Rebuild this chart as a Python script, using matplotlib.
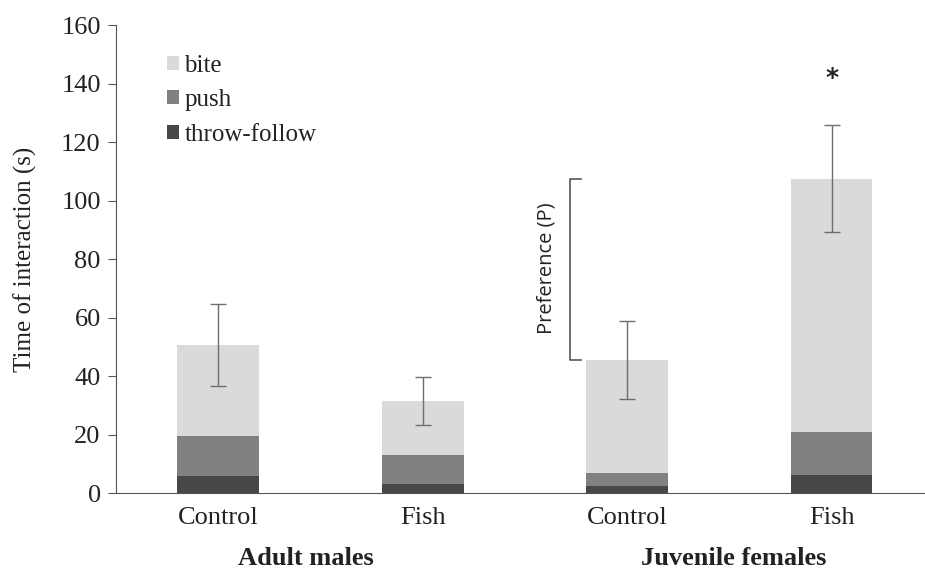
import matplotlib.pyplot as plt

# data
labels = ['Control', 'Fish', 'Control', 'Fish']
groups = ['Adult males', 'Juvenile females']
throw_follow = [5.8, 3.0, 2.3, 6.0]
push = [13.7, 10.0, 4.7, 15.0]
bite = [31.0, 18.5, 38.5, 86.5]
err = [14.0, 8.2, 13.3, 18.3]

c_bite = '#d9dadc'
c_push = '#808182'
c_throw = '#474748'
txt = '#222222'
serif = 'Liberation Serif'

fig = plt.figure(figsize=(9.25, 5.72), dpi=100)
ax = fig.add_axes([0.1254, 0.1381, 0.8746, 0.818])

x = list(range(len(labels)))
w = 0.4
b2 = [a + b for a, b in zip(throw_follow, push)]
total = [a + b for a, b in zip(b2, bite)]

ax.bar(x, throw_follow, w, color=c_throw, label='throw-follow')
ax.bar(x, push, w, bottom=throw_follow, color=c_push, label='push')
ax.bar(x, bite, w, bottom=b2, color=c_bite, label='bite')
ax.errorbar(x, total, yerr=err, fmt='none', ecolor='#6e6e6e', elinewidth=1,
            capsize=6, capthick=1)

ax.set_xlim(-0.5, 3.457)
ax.set_ylim(0, 160)
ax.set_yticks(range(0, 161, 20))
ax.set_xticks(x)
ax.set_xticklabels(labels)
ax.tick_params(axis='x', length=0, pad=10)
ax.tick_params(axis='y', length=6, direction='out', color='#555555', pad=5)
for lab in ax.get_xticklabels() + ax.get_yticklabels():
    lab.set_fontfamily(serif)
    lab.set_fontsize(19)
    lab.set_color(txt)
for s in ['top', 'right']:
    ax.spines[s].set_visible(False)
for s in ['left', 'bottom']:
    ax.spines[s].set_color('#555555')

ax.set_ylabel('Time of interaction (s)', family=serif, fontsize=18,
              color=txt, labelpad=17)

# group labels
ax.text(0.43, -0.14, groups[0], transform=ax.get_xaxis_transform(),
        ha='center', va='center', family=serif, fontsize=19,
        fontweight='bold', color=txt)
ax.text(2.52, -0.14, groups[1], transform=ax.get_xaxis_transform(),
        ha='center', va='center', family=serif, fontsize=19,
        fontweight='bold', color=txt)

# significance and preference bracket
ax.text(3, 142, '*', ha='center', va='center', fontsize=18, color=txt,
        fontweight='bold')
bx = 1.723
ax.plot([bx + 0.05, bx, bx, bx + 0.05], [107.5, 107.5, 45.5, 45.5],
        color='#555555', lw=1.2)
ax.text(bx - 0.115, 77, 'Preference (P)', rotation=90, ha='center',
        va='center', family='Open Sans', fontsize=14.5, color=txt)

h, l = ax.get_legend_handles_labels()
leg = ax.legend(h[::-1], l[::-1], loc='upper left', bbox_to_anchor=(0.035, 0.985),
                frameon=False, prop={'family': serif, 'size': 18},
                handlelength=0.5, handleheight=0.5, handletextpad=0.2,
                labelspacing=0.5)
for t in leg.get_texts():
    t.set_color(txt)

fig.savefig('out.png', dpi=100)
plt.close(fig)
